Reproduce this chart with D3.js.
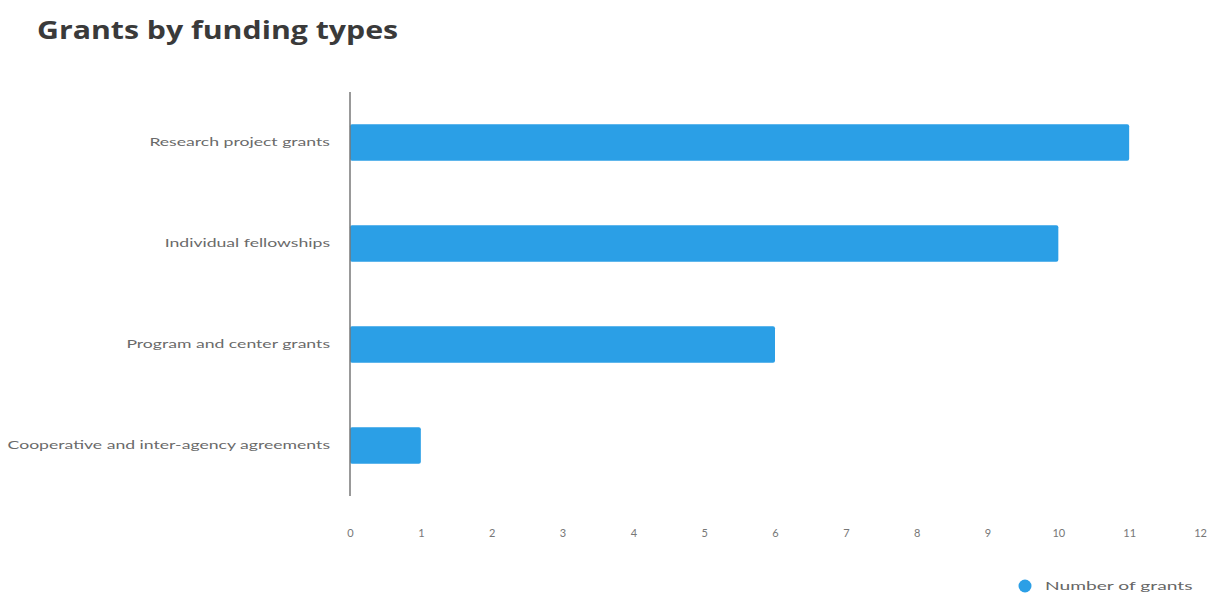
<!DOCTYPE html>
<html>
<head>
<meta charset="utf-8">
<script src="https://cdn.jsdelivr.net/npm/d3@7"></script>
<style>
  html, body { margin: 0; padding: 0; background: #fff; }
  svg { display: block; }
</style>
</head>
<body>
<svg id="chart" width="1229" height="606"></svg>
<script>
// Grants counted per funding mechanism
const categories = [
  "Research project grants",
  "Individual fellowships",
  "Program and center grants",
  "Cooperative and inter-agency agreements"
];
const grantCounts = [11, 10, 6, 1];
const xTicks = [0, 1, 2, 3, 4, 5, 6, 7, 8, 9, 10, 11, 12];
const seriesName = "Number of grants";

const svg = d3.select("#chart");
const barColor = "#2b9fe6";
const font = "Lato, 'Open Sans', sans-serif";

// Widen glyphs horizontally (the typeface used is a wide one)
function widen(sel, factor) {
  sel.each(function () {
    const w = this.getComputedTextLength();
    d3.select(this).attr("textLength", w * factor).attr("lengthAdjust", "spacingAndGlyphs");
  });
}

const x = d3.scaleLinear().domain([0, 12]).range([350, 1200]);
const y = d3.scaleBand().domain(categories).range([92, 496]).paddingInner(0.64).paddingOuter(0.32);

// Title
const title = svg.append("text")
  .attr("x", 37).attr("y", 39)
  .attr("font-family", "'Open Sans', sans-serif")
  .attr("font-weight", 700)
  .attr("font-size", 25)
  .attr("fill", "#3a3a3a")
  .text("Grants by funding types");
widen(title, 1.21);

// Bars
svg.append("g").selectAll("rect")
  .data(categories.map((c, i) => ({ c, v: grantCounts[i] })))
  .join("rect")
  .attr("x", x(0))
  .attr("y", d => y(d.c))
  .attr("width", d => x(d.v) - x(0))
  .attr("height", y.bandwidth())
  .attr("rx", 2)
  .attr("fill", barColor);

// Category axis
const yAxis = svg.append("g")
  .attr("transform", `translate(${x(0)},0)`)
  .call(d3.axisLeft(y).tickSize(0).tickPadding(20));
yAxis.select(".domain").attr("stroke", "#777").attr("stroke-width", 1.5).attr("d", "M0,92V496");
yAxis.selectAll("text")
  .attr("font-family", font)
  .attr("font-size", 11)
  .attr("fill", "#6a6a6a")
  .call(widen, 1.6);

// Value axis (labels only)
const xAxis = svg.append("g")
  .attr("transform", "translate(0,529)")
  .call(d3.axisBottom(x).tickValues(xTicks).tickSize(0).tickPadding(0).tickFormat(d3.format("d")));
xAxis.select(".domain").remove();
xAxis.selectAll("text")
  .attr("font-family", font)
  .attr("font-size", 11)
  .attr("fill", "#777");

// Legend
const legend = svg.append("g").attr("transform", "translate(1025,586)");
legend.append("circle").attr("r", 6.5).attr("fill", barColor);
legend.append("text")
  .attr("x", 20).attr("y", 4)
  .attr("font-family", font)
  .attr("font-size", 12)
  .attr("fill", "#666")
  .text(seriesName)
  .call(widen, 1.6);
</script>
</body>
</html>
